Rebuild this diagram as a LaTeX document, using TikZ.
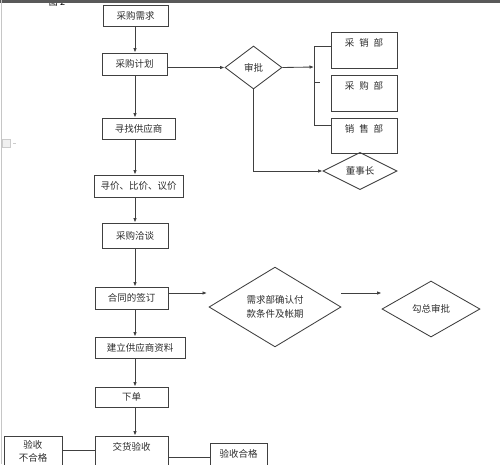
\documentclass[tikz,border=0pt]{standalone}
\usepackage{fontspec}
\setmainfont{Noto Sans CJK SC}
\usetikzlibrary{shapes.geometric,arrows.meta}
\definecolor{ln}{HTML}{404040}
\definecolor{tx}{HTML}{2E2E2E}
\tikzset{
  box/.style={draw=ln, line width=0.85pt, rectangle, inner sep=0pt, text=tx, font=\fontsize{9.5}{11}\selectfont},
  dia/.style={draw=ln, line width=0.85pt, diamond, inner sep=0pt, text=tx, font=\fontsize{9.5}{14}\selectfont, align=center},
  toplab/.style={anchor=north, text=tx, font=\fontsize{9.5}{13}\selectfont, align=center},
  arr/.style={draw=ln, line width=0.85pt, -{Latex[length=4.5pt,width=3.5pt]}},
  con/.style={draw=ln, line width=0.85pt},
}
\begin{document}
\begin{tikzpicture}[x=1pt,y=-1pt]
\useasboundingbox (0,0) rectangle (500,464);
\clip (0,0) rectangle (500,464);
\fill[white] (0,0) rectangle (500,464);
% page decorations
\node[text=black, font=\fontsize{9}{11}\selectfont, anchor=center] (fig) at (57,2.5) {图 2};
\fill[gray!70!black] (0,0) rectangle (500,2.5);
\draw[gray!45, line width=0.8pt] (1.5,0) -- (1.5,464);
\node[draw=gray!40, fill=gray!12, minimum width=8pt, minimum height=8pt, inner sep=0pt] (icon) at (6,143) {};
\draw[gray!40] (icon.east) ++(3,0) -- ++(3,0);
% main column
\coordinate (colx) at (135,0);
\node[box, minimum width=65, minimum height=21] (n1) at (135.5,15.5) {采购需求};
\node[box, minimum width=65, minimum height=22] (n2) at (134.5,64) {采购计划};
\node[box, minimum width=73, minimum height=21] (n3) at (138.5,128.5) {寻找供应商};
\node[box, minimum width=89, minimum height=22] (n4) at (138.5,186) {寻价、比价、议价};
\node[box, minimum width=66, minimum height=25] (n5) at (135,235.5) {采购洽谈};
\node[box, minimum width=73, minimum height=22] (n6) at (131.5,298) {合同的签订};
\node[box, minimum width=90, minimum height=21] (n7) at (140,347.5) {建立供应商资料};
\node[box, minimum width=73, minimum height=20] (n8) at (131.5,397) {下单};
\node[box, minimum width=73, minimum height=40,
      label={[toplab, yshift=-3pt]north:交货验收}] (n9) at (131.5,456) {};
\node[box, minimum width=58, minimum height=40,
      label={[toplab, yshift=-1pt]north:验收\\不合格}] (n10) at (33,456) {};
\node[box, minimum width=57, minimum height=40,
      label={[toplab, yshift=-3pt]north:验收合格}] (n11) at (238.5,463) {};
% right side
\node[dia, minimum width=57, minimum height=43] (sp) at (253.5,67.5) {审批};
\node[box, minimum width=66, minimum height=36,
      label={[toplab, yshift=-3pt]north:采\hspace{5pt}销\hspace{5pt}部}] (b1) at (364,50) {};
\node[box, minimum width=66, minimum height=36,
      label={[toplab, yshift=-3pt]north:采\hspace{5pt}购\hspace{5pt}部}] (b2) at (364,93) {};
\node[box, minimum width=66, minimum height=35,
      label={[toplab, yshift=-3pt]north:销\hspace{5pt}售\hspace{5pt}部}] (b3) at (364,135.5) {};
\node[dia, minimum width=74, minimum height=34] (dz) at (360,171) {董事长};
\node[dia, minimum width=132, minimum height=64] (d2) at (275,307) {需求部确认付\\款条件及帐期};
\node[dia, minimum width=98, minimum height=56] (d3) at (431,309) {勾总审批};
% connectors main column
\draw[arr] (n1.south -| colx) -- (n2.north -| colx);
\draw[arr] (n2.south -| colx) -- (n3.north -| colx);
\draw[arr] (n3.south -| colx) -- (n4.north -| colx);
\draw[arr] (n4.south -| colx) -- (n5.north -| colx);
\draw[arr] (n5.south -| colx) -- (n6.north -| colx);
\draw[arr] (n6.south -| colx) -- (n7.north -| colx);
\draw[arr] (n7.south -| colx) -- (n8.north -| colx);
\draw[arr] (n8.south -| colx) -- (n9.north -| colx);
\coordinate (ya) at (0,450);
\coordinate (yb) at (0,457);
\draw[con] (n9.west |- ya) -- (n10.east |- ya);
\draw[con] (n9.east |- yb) -- (n11.west |- yb);
% approval branch
\draw[arr] (n2.east |- sp.west) -- (sp.west);
\coordinate (br) at (314,67);
\coordinate (bt) at (314,46);
\coordinate (bb) at (314,125);
\coordinate (tk) at (314,82);
\draw[arr] (sp.east) -- (br);
\draw[con] (b1.west |- bt) -- (bt) -- (bb) -- (b3.west |- bb);
\draw[con] (tk) -- ++(6,0);
\draw[arr] (sp.south) |- (dz.west);
% contract branch
\coordinate (ac) at (207,293);
\draw[arr] (n6.east |- ac) -- (ac);
\draw[arr] (d2.east |- ac) -- (d3.west |- ac);
\end{tikzpicture}
\end{document}
